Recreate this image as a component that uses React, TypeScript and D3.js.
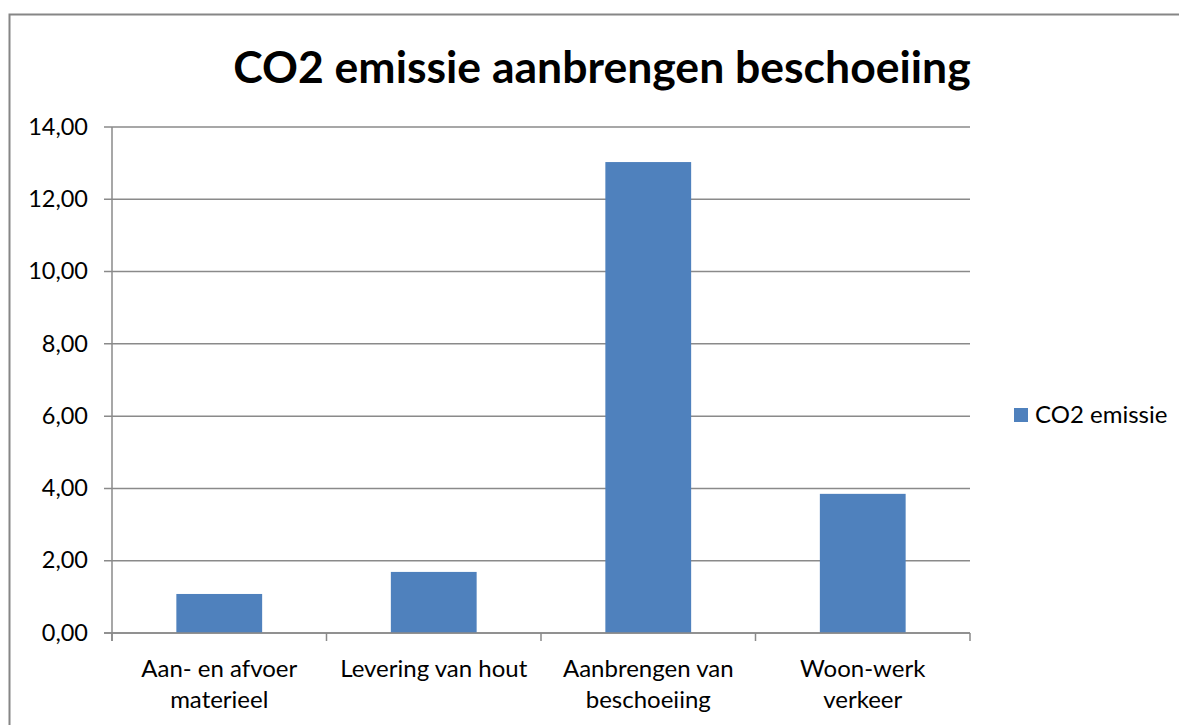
import React, { useEffect, useRef } from 'react';
import * as d3 from 'd3';

// data
const categories = ['Aan- en afvoer\nmaterieel', 'Levering van hout', 'Aanbrengen van\nbeschoeiing', 'Woon-werk\nverkeer'];
const co2Values = [1.08, 1.69, 13.03, 3.85];
const yTicks = [0, 2, 4, 6, 8, 10, 12, 14];
const seriesName = 'CO2 emissie';
const chartTitle = 'CO2 emissie aanbrengen beschoeiing';

const W = 1179;
const H = 725;
const FONT = 'Lato, "Open Sans", sans-serif';

const App = () => {
  const ref = useRef<SVGSVGElement>(null);

  useEffect(() => {
    const svg = d3.select(ref.current);
    svg.selectAll('*').remove();

    const plot = { left: 112, right: 970, top: 127, bottom: 633 };

    // chart border
    svg.append('rect')
      .attr('x', 9.5).attr('y', 14.5)
      .attr('width', 1300).attr('height', 900)
      .attr('fill', '#fff')
      .attr('stroke', '#868686').attr('stroke-width', 2);

    // title
    svg.append('text')
      .attr('x', 602).attr('y', 83)
      .attr('text-anchor', 'middle')
      .style('font-family', FONT).style('font-weight', 'bold').style('font-size', '44.5px')
      .style('fill', '#000')
      .text(chartTitle);

    const x = d3.scaleBand().domain(categories).range([plot.left, plot.right]).paddingInner(0.6).paddingOuter(0.3);
    const y = d3.scaleLinear().domain([0, 14]).range([plot.bottom, plot.top]);
    const step = x.step();

    const g = svg.append('g');

    // gridlines + y ticks
    g.selectAll('line.grid')
      .data(yTicks)
      .join('line')
      .attr('class', 'grid')
      .attr('x1', plot.left - 8).attr('x2', plot.right)
      .attr('y1', (d) => y(d)).attr('y2', (d) => y(d))
      .attr('stroke', '#8a8a8a').attr('stroke-width', 1.5);

    g.selectAll('text.ylab')
      .data(yTicks)
      .join('text')
      .attr('class', 'ylab')
      .attr('x', 88).attr('y', (d) => y(d))
      .attr('dy', '0.33em')
      .attr('text-anchor', 'end')
      .style('font-family', FONT).style('font-size', '23.5px').style('fill', '#000')
      .text((d) => d3.format('.2f')(d).replace('.', ','));

    // bars
    g.selectAll('rect.bar')
      .data(co2Values)
      .join('rect')
      .attr('class', 'bar')
      .attr('x', (d, i) => x(categories[i]) as number)
      .attr('y', (d) => y(d))
      .attr('width', x.bandwidth())
      .attr('height', (d) => y(0) - y(d))
      .attr('fill', '#4f81bd');

    // y axis line
    g.append('line')
      .attr('x1', plot.left).attr('x2', plot.left)
      .attr('y1', plot.top).attr('y2', plot.bottom + 8)
      .attr('stroke', '#8a8a8a').attr('stroke-width', 1.5);

    // x axis
    g.append('line')
      .attr('x1', plot.left - 8).attr('x2', plot.right)
      .attr('y1', plot.bottom).attr('y2', plot.bottom)
      .attr('stroke', '#8a8a8a').attr('stroke-width', 1.5);

    const boundaries = categories.map((c) => (x(c) as number) - step * 0.3).concat([plot.right]);
    g.selectAll('line.xtick')
      .data(boundaries)
      .join('line')
      .attr('class', 'xtick')
      .attr('x1', (d) => d).attr('x2', (d) => d)
      .attr('y1', plot.bottom).attr('y2', plot.bottom + 8)
      .attr('stroke', '#8a8a8a').attr('stroke-width', 1.5);

    // category labels
    const labels = g.selectAll('text.xlab')
      .data(categories)
      .join('text')
      .attr('class', 'xlab')
      .attr('text-anchor', 'middle')
      .style('font-family', FONT).style('font-size', '24px').style('fill', '#000');
    labels.each(function (d) {
      const cx = (x(d) as number) + x.bandwidth() / 2;
      d3.select(this).selectAll('tspan')
        .data(d.split('\n'))
        .join('tspan')
        .attr('x', cx)
        .attr('y', (t, i) => 677 + i * 31)
        .text((t) => t);
    });

    // legend
    svg.append('rect')
      .attr('x', 1014).attr('y', 408)
      .attr('width', 14).attr('height', 14)
      .attr('fill', '#4f81bd');
    svg.append('text')
      .attr('x', 1035).attr('y', 423)
      .style('font-family', FONT).style('font-size', '24px').style('fill', '#000')
      .text(seriesName);
  }, []);

  return (
    <div style={{ position: 'absolute', left: 0, top: 0 }}>
      <svg ref={ref} width={W} height={H} style={{ display: 'block' }}></svg>
    </div>
  );
};

export default App;
